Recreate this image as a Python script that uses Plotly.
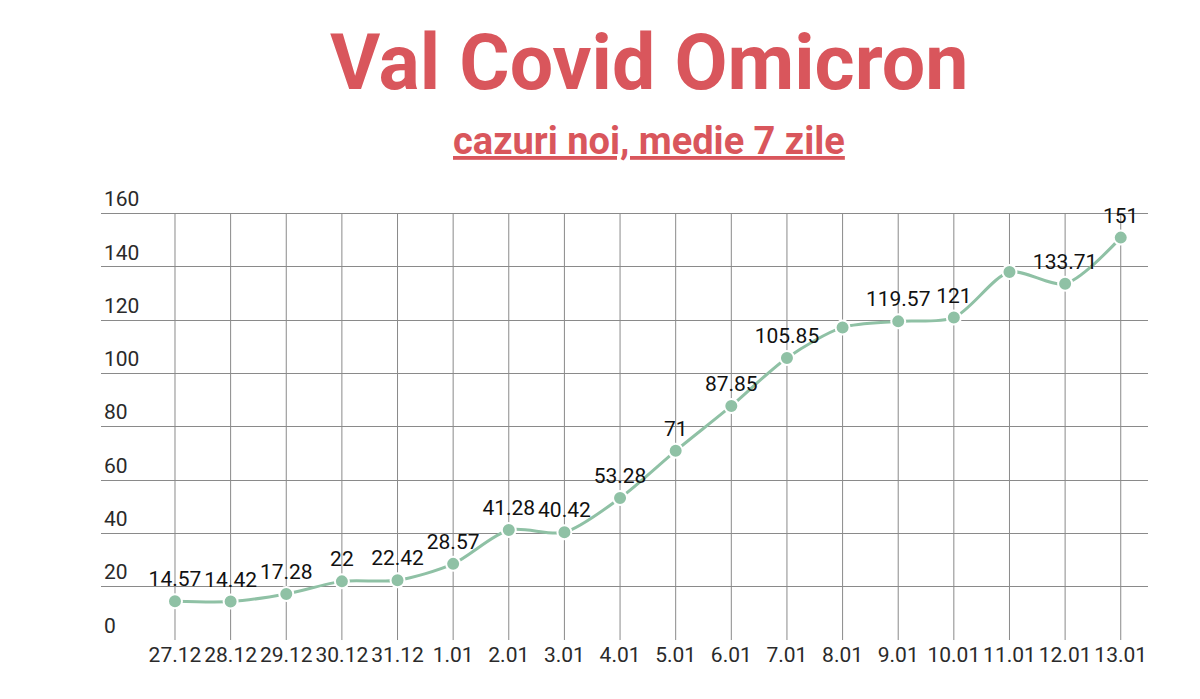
import plotly.graph_objects as go

dates = ["27.12", "28.12", "29.12", "30.12", "31.12", "1.01", "2.01", "3.01", "4.01",
         "5.01", "6.01", "7.01", "8.01", "9.01", "10.01", "11.01", "12.01", "13.01"]
cases_avg = [14.57, 14.42, 17.28, 22, 22.42, 28.57, 41.28, 40.42, 53.28,
             71, 87.85, 105.85, 117.3, 119.57, 121, 138.1, 133.71, 151]
label_shown = [True] * 12 + [False, True, True, False, True, True]
y_ticks = [0, 20, 40, 60, 80, 100, 120, 140, 160]

title = "Val Covid Omicron"
subtitle = "cazuri noi, medie 7 zile"

RED = "#d9565c"
GREEN = "#8fc1a5"
GRID = "#8a8a8a"

x_idx = list(range(len(dates)))
labels = [f"{v:g}" if s else "" for v, s in zip(cases_avg, label_shown)]

Y_TOP = 176            # axis range top (leaves room for the top tick label)
PX_PER_UNIT = 426 / 160
plot_h = Y_TOP * PX_PER_UNIT
top_margin = 640 - plot_h

fig = go.Figure()

# vertical grid lines, stopping at the top y tick
for i in x_idx:
    fig.add_shape(type="line", xref="x", yref="y", x0=i, x1=i, y0=y_ticks[0], y1=y_ticks[-1],
                  line=dict(color=GRID, width=1), layer="below")

fig.add_trace(go.Scatter(
    x=x_idx, y=cases_avg,
    mode="lines+markers+text",
    line=dict(color=GREEN, width=3, shape="spline", smoothing=0.8),
    marker=dict(color=GREEN, size=14, line=dict(color="white", width=2)),
    text=labels, textposition="top center",
    textfont=dict(family="Roboto", size=21, color="#111111"),
    cliponaxis=False,
    hoverinfo="x+y",
))

fig.update_layout(
    width=1200, height=699,
    paper_bgcolor="white", plot_bgcolor="white",
    margin=dict(l=101, r=52, t=top_margin, b=59, autoexpand=False),
    showlegend=False,
    font=dict(family="Roboto", color="#333333"),
)
fig.update_xaxes(
    tickmode="array", tickvals=x_idx, ticktext=dates,
    range=[-1.33, 17.49],
    showgrid=False,
    showline=False, zeroline=False, ticks="",
    tickfont=dict(family="Roboto", size=21, color="#2a2a2a"),
)
fig.update_yaxes(
    tickmode="array", tickvals=y_ticks,
    range=[0, Y_TOP],
    showgrid=True, gridcolor=GRID, gridwidth=1,
    showline=False, zeroline=False, ticks="",
    ticklabelposition="inside top",
    tickfont=dict(family="Roboto", size=21, color="#2a2a2a"),
)

cx = (649 - 101) / (1200 - 101 - 52)
fig.add_annotation(
    text=f"<b>{title}</b>", xref="paper", yref="paper",
    x=cx, y=1, yshift=130 - (193 - top_margin),
    xanchor="center", yanchor="middle", showarrow=False,
    font=dict(family="Roboto", size=77, color=RED),
)
fig.add_annotation(
    text=f"<b><u>{subtitle}</u></b>", xref="paper", yref="paper",
    x=cx, y=1, yshift=52 - (193 - top_margin),
    xanchor="center", yanchor="middle", showarrow=False,
    font=dict(family="Roboto", size=38, color=RED),
)

fig.write_html("out.html", config={"displayModeBar": False})

with open("out.html", "r", encoding="utf-8") as f:
    html = f.read()
html = html.replace("<body>", '<body style="margin:0;padding:0;overflow:hidden">', 1)
with open("out.html", "w", encoding="utf-8") as f:
    f.write(html)
